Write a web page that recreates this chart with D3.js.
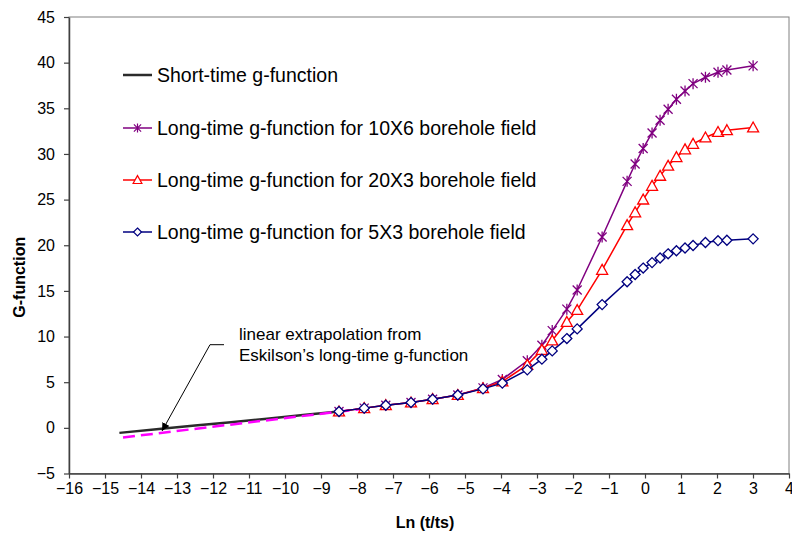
<!DOCTYPE html>
<html><head><meta charset="utf-8">
<script src="https://cdn.jsdelivr.net/npm/d3@7"></script>
<style>body{margin:0;background:#fff}svg{display:block;font-family:"Liberation Sans",Arial,sans-serif}</style>
</head><body><svg id="c" width="792" height="537"></svg>
<script>
// ---- data ----
const xLong = [-8.5,-7.8,-7.2,-6.5,-5.9,-5.2,-4.5,-3.963,-3.27,-2.864,-2.577,-2.171,-1.884,-1.191,-0.497,-0.274,-0.051,0.196,0.419,0.642,0.873,1.112,1.335,1.679,2.028,2.275,3.003];
const g10x6 = [1.79,2.16,2.48,2.77,3.14,3.6,4.38,5.3,7.35,9.05,10.65,13.0,15.1,20.9,27.0,28.9,30.6,32.3,33.7,34.9,36.0,36.9,37.7,38.4,38.95,39.2,39.65];
const g20x3 = [1.79,2.16,2.48,2.77,3.14,3.6,4.34,5.07,6.9,8.54,9.56,11.6,12.9,17.3,22.2,23.6,25.0,26.5,27.6,28.7,29.65,30.5,31.1,31.8,32.4,32.6,32.9];
const g5x3  = [1.79,2.16,2.48,2.77,3.14,3.6,4.27,4.9,6.35,7.52,8.43,9.78,10.84,13.5,16.0,16.8,17.5,18.1,18.6,19.06,19.4,19.7,19.97,20.3,20.5,20.55,20.7];
const xShort = [-14.6,-13.5,-12.5,-11.5,-10.5,-9.5,-8.5];
const gShort = [-0.55,-0.13,0.25,0.62,1.0,1.4,1.79];
const xExtrap = [-14.5,-7.8];
const gExtrap = [-1.05,2.1];
const xTicks = d3.range(-16,5,1);
const yTicks = d3.range(-5,50,5);
const legendLabels = ["Short-time g-function","Long-time g-function for 10X6 borehole field","Long-time g-function for 20X3 borehole field","Long-time g-function for 5X3 borehole field"];
const annotationLines = ["linear extrapolation from","Eskilson\u2019s long-time g-function"];

// ---- layout ----
const svg = d3.select("#c");
const L=69, R=789, T=17, B=473.5;
const x = d3.scaleLinear().domain([-16,4]).range([L,R]);
const y = d3.scaleLinear().domain([-5,45]).range([B,T]);

// plot frame
svg.append("rect").attr("x",L).attr("y",T).attr("width",R-L).attr("height",B-T)
  .attr("fill","none").attr("stroke","#808080").attr("stroke-width",1);

// axes
const xa = svg.append("g").attr("transform",`translate(0,${B})`)
  .call(d3.axisBottom(x).tickValues(xTicks).tickFormat(d3.format("d")).tickSize(5).tickSizeOuter(0).tickPadding(4));
const ya = svg.append("g").attr("transform",`translate(${L},0)`)
  .call(d3.axisLeft(y).tickValues(yTicks).tickFormat(d3.format("d")).tickSize(5).tickSizeOuter(0).tickPadding(9));
[xa,ya].forEach(a=>{
  a.selectAll("path").attr("stroke","#404040").attr("stroke-width",1.5);
  a.selectAll("line").attr("stroke","#404040").attr("stroke-width",1.2);
  a.selectAll("text").attr("font-size",16).attr("fill","#000").attr("font-family","Liberation Sans, Arial, sans-serif");
});

// axis titles
svg.append("text").attr("x",(L+R)/2-4).attr("y",528).attr("text-anchor","middle")
  .attr("font-weight","bold").attr("font-size",16).text("Ln (t/ts)");
svg.append("text").attr("transform",`translate(25,${(T+B)/2+32}) rotate(-90)`).attr("text-anchor","middle")
  .attr("font-weight","bold").attr("font-size",16).text("G-function");

const line = d3.line().x(d=>x(d[0])).y(d=>y(d[1]));
const zip = (a,b)=>a.map((v,i)=>[v,b[i]]);

// short-time
svg.append("path").datum(zip(xShort,gShort)).attr("d",line).attr("fill","none")
  .attr("stroke","#2b2b2b").attr("stroke-width",2.5);
// extrapolation
svg.append("path").datum(zip(xExtrap,gExtrap)).attr("d",line).attr("fill","none")
  .attr("stroke","#ff00ff").attr("stroke-width",2.5).attr("stroke-dasharray","12,6");

function star(s){const h=s/2;return `M${-h},${-h}L${h},${h}M${-h},${h}L${h},${-h}M0,${-h-1}L0,${h+1}`;}
function tri(s){const h=s/2;return `M0,${-h}L${h},${h*0.8}L${-h},${h*0.8}Z`;}
function dia(s){const h=s/2;return `M0,${-h}L${h},0L0,${h}L${-h},0Z`;}

const series = [
  {vals:g10x6,color:"#800080",shape:star,size:9,fill:"none"},
  {vals:g20x3,color:"#ff0000",shape:tri,size:11,fill:"#fff"},
  {vals:g5x3,color:"#000080",shape:dia,size:10,fill:"#fff"}
];
series.forEach(s=>{
  const pts = zip(xLong,s.vals);
  svg.append("path").datum(pts).attr("d",line).attr("fill","none").attr("stroke",s.color).attr("stroke-width",1.5);
  svg.append("g").selectAll("path").data(pts).join("path")
    .attr("transform",d=>`translate(${x(d[0])},${y(d[1])})`)
    .attr("d",s.shape(s.size)).attr("fill",s.fill).attr("stroke",s.color).attr("stroke-width",1.3);
});

// legend
const legY=[75,128,180,232];
legendLabels.forEach((t,i)=>{
  const g=svg.append("g").attr("transform",`translate(0,${legY[i]})`);
  const col = i===0?"#2b2b2b":series[i-1].color;
  g.append("line").attr("x1",123).attr("x2",152).attr("y1",0).attr("y2",0).attr("stroke",col).attr("stroke-width",i===0?2.5:1.5);
  if(i>0){const s=series[i-1];g.append("path").attr("transform","translate(137.5,0)").attr("d",s.shape(s.size*0.8)).attr("fill",s.fill).attr("stroke",col).attr("stroke-width",1.2);}
  g.append("text").attr("x",157).attr("y",0).attr("dy","0.35em").attr("font-size",19.5).text(t);
});

// annotation
annotationLines.forEach((t,i)=>{
  svg.append("text").attr("x",239).attr("y",340+i*21).attr("font-size",17).text(t);
});
svg.append("defs").append("marker").attr("id","ah").attr("viewBox","0 0 10 10").attr("refX",10).attr("refY",5)
  .attr("markerWidth",8).attr("markerHeight",8).attr("markerUnits","userSpaceOnUse").attr("orient","auto")
  .append("path").attr("d","M0,0L10,5L0,10Z").attr("fill","#000");
svg.append("path").attr("d","M224,344.7L210,344.7L162,431").attr("fill","none").attr("stroke","#000").attr("stroke-width",1)
  .attr("marker-end","url(#ah)");
</script></body></html>
